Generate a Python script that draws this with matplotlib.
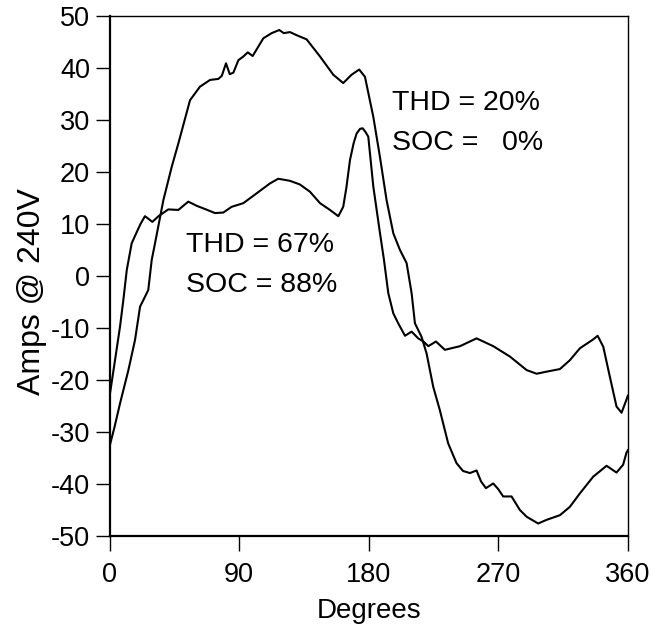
import matplotlib.pyplot as plt

plt.rcParams['font.family'] = ['Liberation Sans', 'DejaVu Sans']
plt.rcParams['axes.unicode_minus'] = False

# curve with THD = 20% (big, nearly sinusoidal)
deg_a = [0, 3.5, 7.3, 13.1, 17.7, 21.2, 24.6, 26.9, 29.3, 31.6, 37.4, 43.2, 47.8,
         55.9, 62.8, 69.8, 75.6, 78, 80.9, 83.5, 86, 89.5, 92.9, 96, 99.4, 102,
         106.8, 112.6, 117.9, 121, 125.3, 130, 136.9, 146.2, 155.4, 162.3, 168.1,
         173.4, 177.4, 183.2, 187.8, 192.4, 197.1, 201.7, 206.3, 209.8, 212.1,
         216.7, 220.2, 224.8, 229.4, 235.2, 241, 245.5, 250.3, 254.9, 258, 261.4,
         266.5, 270, 273.4, 279.2, 285, 289.7, 297.7, 303.5, 312.8, 319.7, 326.7,
         335.9, 345.2, 352.1, 356.7, 359, 360]
amps_a = [-32.8, -29, -24.5, -18.1, -12.3, -5.9, -4, -2.7, 3.1, 6.3, 14.6, 21, 25.5,
          33.8, 36.4, 37.7, 37.9, 38.5, 40.9, 38.8, 39.1, 41.5, 42.2, 43, 42.3, 43.5,
          45.7, 46.7, 47.3, 46.7, 46.9, 46.3, 45.5, 42.2, 38.7, 37.1, 38.7,
          39.7, 38.3, 30.6, 22.9, 14.6, 8.2, 5, 2.5, -3.3, -9.1,
          -11.7, -14.9, -21.3, -25.8, -32.2, -36, -37.5, -37.9, -37.4, -39.5, -40.8,
          -39.9, -41, -42.4, -42.4, -45, -46.3, -47.6, -46.9, -46, -44.4, -41.8,
          -38.6, -36.5, -37.8, -36.3, -34, -33.5]

# curve with THD = 67% (distorted)
deg_b = [0, 3.8, 7.3, 9.6, 12, 15.4, 18.5, 21.5, 24.6, 27, 29.7, 34, 40.8, 47.8,
         54.7, 60.5, 67, 73.2, 79, 84.8, 92.9, 102.2, 111.4, 117.2, 125.3, 132.2,
         139.2, 146.2, 153.1, 158.9, 162.3, 164.5, 167, 169.5, 171.6, 174, 175.8,
         177.5, 179.7, 183.2, 187.8, 190.6, 193.6, 197.1, 200.5, 205.2, 209.8,
         214.4, 218, 221.4, 226.7, 232.9, 243.4, 254.9, 266.5, 278.1, 289.7, 296.6,
         303.5, 312.8, 319.7, 326.7, 335.9, 339, 342.9, 347.5, 352.1, 355.6, 359, 360]
amps_b = [-23.2, -16.2, -9.7, -4.6, 1.2, 6.3, 8.2, 10, 11.5, 11, 10.4, 11.5, 12.8, 12.7,
          14.3, 13.5, 12.8, 12.1, 12.2, 13.3, 14, 15.9, 17.8, 18.7, 18.3, 17.6,
          16.2, 14, 12.7, 11.5, 13.3, 17, 22.3, 25.5, 27.4, 28.3, 28.4,
          27.8, 26.8, 17.2, 8.3, 3.1, -3.3, -7.2, -9.1, -11.5, -10.7,
          -12, -12.6, -13.5, -12.6, -14.2, -13.5, -12, -13.5, -15.5, -18.1, -18.8,
          -18.4, -17.9, -16.2, -13.9, -12.2, -11.5, -13.6, -19.4, -25.1, -26.3, -23.8, -23]

x_ticks = [0, 90, 180, 270, 360]
y_ticks = list(range(-50, 51, 10))

fig = plt.figure(figsize=(6.52, 6.34), dpi=100)
ax = fig.add_axes([0.168, 0.1546, 0.795, 0.8202])

ax.plot(deg_a, amps_a, color='black', lw=1.5)
ax.plot(deg_b, amps_b, color='black', lw=1.5)

ax.set_xlim(0, 360)
ax.set_ylim(-50, 50)
ax.set_xticks(x_ticks)
ax.set_yticks(y_ticks)
ax.tick_params(direction='out', length=10, width=1, labelsize=19.5, pad=4)
ax.tick_params(axis='x', length=11, pad=8)

for side in ['left', 'bottom']:
    ax.spines[side].set_linewidth(1.6)
for side in ['top', 'right']:
    ax.spines[side].set_linewidth(1.0)

ax.set_xlabel('Degrees', fontsize=20, labelpad=7)
ax.set_ylabel('Amps @ 240V', fontsize=23, labelpad=4)
ax.yaxis.set_label_coords(-0.12, 0.47)

ax.text(196, 31.9, 'THD = 20%', fontsize=20.5, va='baseline')
ax.text(196, 24.2, 'SOC =   0%', fontsize=20.5, va='baseline')
ax.text(53.1, 4.6, 'THD = 67%', fontsize=20.5, va='baseline')
ax.text(53.1, -3.1, 'SOC = 88%', fontsize=20.5, va='baseline')

plt.savefig('out.png', dpi=100)
